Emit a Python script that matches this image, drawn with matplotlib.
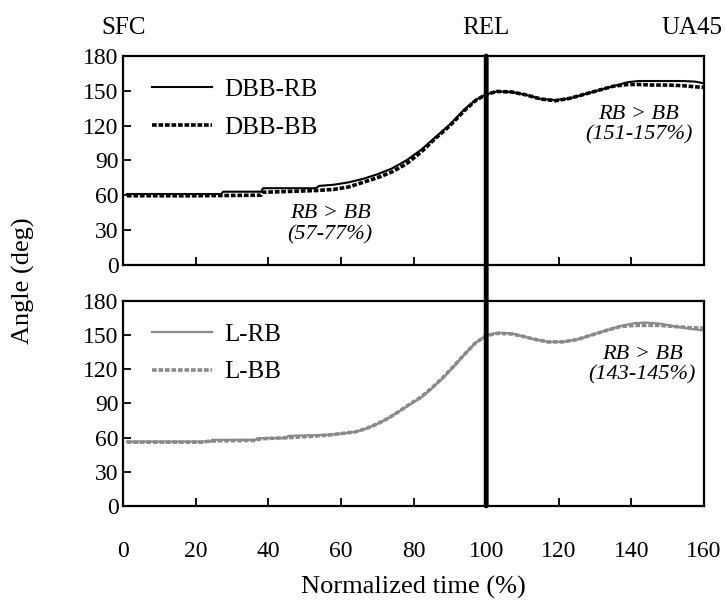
import matplotlib.pyplot as plt
from matplotlib.patches import ConnectionPatch

plt.rcParams['font.family'] = ['Liberation Serif', 'DejaVu Serif']

# DBB (top panel)
dbb_rb_t = [1, 27, 27.5, 38, 38.5, 53, 54, 58, 62, 66, 70, 74, 78, 82, 86, 90, 94, 97,
            100, 103, 107, 111, 115, 119, 123, 127, 131, 135, 139, 142, 146, 150, 154, 157.5, 160]
dbb_rb = [61, 61, 63, 63, 66, 66, 68, 69, 71, 74, 78, 83, 90, 99, 110, 121, 134, 142,
          147, 149.5, 149, 146.5, 143, 142, 143.5, 147, 150.5, 154, 157.5, 158.5, 158.5, 158.5, 158.5, 158, 156.5]
dbb_bb_t = [1, 20, 38, 38.5, 53, 58, 62, 66, 70, 74, 78, 82, 86, 90, 94, 97,
            100, 103, 107, 111, 115, 119, 123, 127, 131, 135, 139, 142, 146, 150, 154, 157.5, 160]
dbb_bb = [59.5, 59.5, 60, 62.5, 64, 65, 67, 71, 75, 80, 87, 97, 109, 120, 133, 141.5,
          147, 149.5, 149, 146.5, 143, 141.5, 143.5, 147, 150.5, 154, 155.5, 155.5, 155, 155, 154.5, 153.5, 153]

# L (bottom panel)
l_rb_t = [1, 24, 24.5, 36.5, 37, 45, 45.5, 57, 60, 64, 67, 70, 73, 76, 79, 82, 85, 88, 91, 94, 97,
          100, 103, 107, 110, 113, 117, 121, 125, 129, 133, 137, 141, 144, 148, 152, 156, 160]
l_rb = [56.5, 56.5, 58, 58, 59.5, 59.5, 61.5, 62.5, 63.5, 65, 68, 72, 77, 83, 89, 95, 103, 112, 122, 133, 143,
        149.5, 152, 151.5, 149, 146.5, 144, 144, 146, 150, 154, 158, 160.5, 161, 160, 157.5, 155.5, 154]
l_bb_t = [1, 22, 24, 36, 38, 46, 56, 60, 64, 67, 70, 73, 76, 79, 82, 85, 88, 91, 94, 97,
          100, 103, 107, 110, 113, 117, 121, 125, 129, 133, 137, 141, 144, 148, 152, 156, 160]
l_bb = [56, 56, 57, 57.5, 59, 60, 62, 63.5, 65, 68, 72, 77, 83, 89.5, 95.5, 103.5, 112.5, 122.5, 133, 143,
        149.5, 151.5, 151, 149, 146.5, 144, 144, 146, 150, 154, 157.5, 158.5, 158.5, 158.5, 157.5, 156.5, 156]

phase_labels = ['SFC', 'REL', 'UA45']
phase_pos = [0, 100, 160]
rel_time = 100

xticks = list(range(0, 161, 20))
yticks = list(range(0, 181, 30))

gray = '#8a8a8a'
fig = plt.figure(figsize=(7.25, 6.03), dpi=100)
ax1 = fig.add_axes([0.170, 0.561, 0.801, 0.346])
ax2 = fig.add_axes([0.170, 0.161, 0.801, 0.340])

ax1.plot(dbb_rb_t, dbb_rb, color='black', lw=1.5, label='DBB-RB')
ax1.plot(dbb_bb_t, dbb_bb, color='black', lw=2.6, linestyle=(0, (1.3, 0.5)), label='DBB-BB')
ax2.plot(l_rb_t, l_rb, color=gray, lw=1.6, label='L-RB')
ax2.plot(l_bb_t, l_bb, color=gray, lw=2.6, linestyle=(0, (1.3, 0.5)), label='L-BB')

for ax in (ax1, ax2):
    ax.set_xlim(0, 160)
    ax.set_ylim(0, 180)
    ax.set_xticks(xticks)
    ax.set_yticks(yticks)
    ax.tick_params(direction='in', length=6, width=1.3, labelsize=17)
    for s in ax.spines.values():
        s.set_linewidth(1.6)
    ax.legend(loc='upper left', bbox_to_anchor=(0.01, 1.0), frameon=False, fontsize=18,
              handlelength=2.4, handletextpad=0.5, labelspacing=0.6)
ax1.tick_params(labelbottom=False)
ax2.tick_params(axis='x', pad=25)

# thick vertical line at REL across both panels
con = ConnectionPatch(xyA=(rel_time, 180), coordsA=ax1.transData,
                      xyB=(rel_time, 0), coordsB=ax2.transData,
                      color='black', lw=3.5)
fig.add_artist(con)

for name, pos in zip(phase_labels, phase_pos):
    if name == 'UA45':
        ax1.annotate(name, xy=(pos, 180), xytext=(13, 20), textcoords='offset points',
                     ha='right', va='center', fontsize=18, annotation_clip=False)
    else:
        ax1.annotate(name, xy=(pos, 180), xytext=(0, 20), textcoords='offset points',
                     ha='center', va='center', fontsize=18, annotation_clip=False)

ax1.text(57, 35, 'RB > BB\n(57-77%)', ha='center', va='center', fontsize=16,
         style='italic', linespacing=1.1)
ax1.text(142, 121, 'RB > BB\n(151-157%)', ha='center', va='center', fontsize=16,
         style='italic', linespacing=1.1)
ax2.text(143, 124, 'RB > BB\n(143-145%)', ha='center', va='center', fontsize=16,
         style='italic', linespacing=1.1)

fig.text(0.033, 0.535, 'Angle (deg)', rotation=90, ha='center', va='center', fontsize=19)
ax2.set_xlabel('Normalized time (%)', fontsize=19, labelpad=10)

fig.savefig('out.png', dpi=100)
